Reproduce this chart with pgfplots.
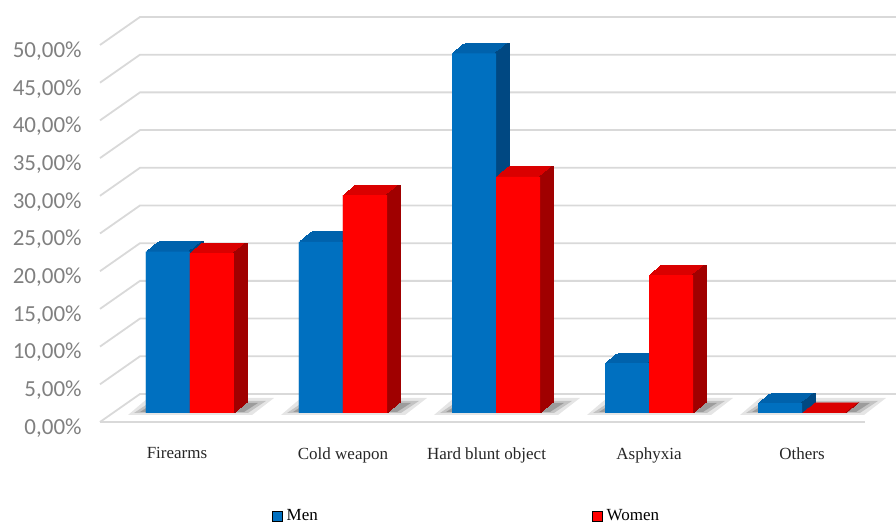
\documentclass[border=0pt]{standalone}
\usepackage{fontspec}
\setmainfont{Liberation Serif}
\newfontfamily\calibri{Carlito}
\usepackage{pgfplots}
\usepackage{pgfplotstable}
\pgfplotsset{compat=1.18}

\definecolor{menFront}{RGB}{0,112,192}
\definecolor{menTop}{RGB}{0,98,172}
\definecolor{menSide}{RGB}{0,72,130}
\definecolor{womFront}{RGB}{255,0,0}
\definecolor{womTop}{RGB}{218,0,0}
\definecolor{womSide}{RGB}{160,0,0}
\definecolor{gridc}{RGB}{217,217,217}
\definecolor{tickc}{RGB}{128,128,128}

% depth of the bars: the bar path is swept back along (6.5pt,5pt) in 12 steps
\tikzset{
  dstep/.style 2 args={preaction={fill=#1,draw=#1,line width=0.5pt,
      transform canvas={shift={(#2*0.5417pt,#2*0.4167pt)}}}},
  extrude/.style={dstep={#1}{1},dstep={#1}{2},dstep={#1}{3},dstep={#1}{4},
      dstep={#1}{5},dstep={#1}{6},dstep={#1}{7},dstep={#1}{8},
      dstep={#1}{9},dstep={#1}{10},dstep={#1}{11},dstep={#1}{12}},
  frontplane/.style={shift={(-6.75pt,-4.5pt)}},
  backplane/.style={shift={(13.25pt,9.5pt)}},
  gridline/.style={gridc,line width=0.9pt},
}

% share of each cause of death, in percent
\pgfplotstableread{
x  men   women
0  21.4  21.2
1  22.7  28.9
2  47.7  31.3
3  6.6   18.3
4  1.3   0
}\causes

\begin{document}
\begin{tikzpicture}
\useasboundingbox (0,0) rectangle (448pt,261.5pt);
\clip (0,0) rectangle (448pt,261.5pt);
\begin{axis}[
  at={(95pt,55pt)}, anchor=origin,
  x=76.5pt, y=3.77pt,
  xmin=-0.5, xmax=4.5, ymin=0, ymax=50,
  clip=false,
  axis line style={draw=none},
  major tick length=0pt,
  xtick={0,...,4},
  xticklabels={{\hspace*{-13pt}Firearms},{Cold weapon},{\hspace*{-9.5pt}Hard blunt object},{Asphyxia},{Others}},
  xticklabel style={anchor=north, inner sep=0pt, yshift=-17pt,
      font=\fontsize{8.5}{10}\selectfont, text=black!85},
  ytick={0,5,...,50},
  yticklabel={\pgfmathprintnumber[fixed,fixed zerofill,precision=2,use comma,assume math mode=true]{\tick}\%},
  yticklabel style={anchor=east, inner sep=0pt, xshift=-15.75pt, yshift=-7.5pt,
      font=\calibri\fontsize{11.5}{13}\selectfont, text=tickc},
  legend columns=2,
  legend image code/.code={\fill[#1] (0pt,-2.5pt) rectangle (5pt,2.5pt);},
  legend style={at={(0.4627,-0.2746)}, anchor=center, draw=none, fill=none,
      font=\fontsize{8.5}{10}\selectfont, inner sep=0pt,
      /tikz/every even column/.append style={column sep=135pt}},
]
% walls and floor
\pgfplotsinvokeforeach{0,5,...,50}{
  \draw[gridline] ([frontplane]axis cs:-0.5,#1) -- ([backplane]axis cs:-0.5,#1) -- ([backplane]axis cs:5,#1);
}
\draw[gridline] ([frontplane]axis cs:-0.5,0) -- ([frontplane]axis cs:4.5,0);

% soft floor shadow under each pair of bars
\pgfplotsinvokeforeach{0,...,4}{
  \fill[black, opacity=0.10] ([shift={(-31pt,-1pt)}]axis cs:#1,0) -- ([shift={(31pt,-1pt)}]axis cs:#1,0)
     -- ([shift={(42pt,7.5pt)}]axis cs:#1,0) -- ([shift={(-21pt,7.5pt)}]axis cs:#1,0) -- cycle;
  \fill[black, opacity=0.15] ([shift={(-28pt,0pt)}]axis cs:#1,0) -- ([shift={(29pt,0pt)}]axis cs:#1,0)
     -- ([shift={(38pt,6pt)}]axis cs:#1,0) -- ([shift={(-19pt,6pt)}]axis cs:#1,0) -- cycle;
  \fill[black, opacity=0.20] ([shift={(-25pt,0.5pt)}]axis cs:#1,0) -- ([shift={(27pt,0.5pt)}]axis cs:#1,0)
     -- ([shift={(34pt,5pt)}]axis cs:#1,0) -- ([shift={(-18pt,5pt)}]axis cs:#1,0) -- cycle;
}

% Men: top, side, front
\addplot[ybar, forget plot, bar width=22pt, bar shift=-11pt, fill=menTop, draw=none, extrude=menTop]
  table[x=x, y=men] {\causes};
\addplot[ybar, forget plot, bar width=0.6pt, bar shift=-0.3pt, fill=menSide, draw=none, extrude=menSide]
  table[x=x, y=men] {\causes};
\addplot[ybar, forget plot, bar width=22pt, bar shift=-11pt, fill=menFront, draw=none]
  table[x=x, y=men] {\causes};

% Women: top, side, front
\addplot[ybar, forget plot, bar width=22pt, bar shift=11pt, fill=womTop, draw=none, extrude=womTop]
  table[x=x, y=women] {\causes};
\addplot[ybar, forget plot, bar width=0.6pt, bar shift=21.7pt, fill=womSide, draw=none, extrude=womSide]
  table[x=x, y=women] {\causes};
\addplot[ybar, forget plot, bar width=22pt, bar shift=11pt, fill=womFront, draw=none]
  table[x=x, y=women] {\causes};

\addlegendimage{fill=menFront}
\addlegendentry{Men}
\addlegendimage{fill=womFront}
\addlegendentry{Women}
\end{axis}
\end{tikzpicture}
\end{document}
